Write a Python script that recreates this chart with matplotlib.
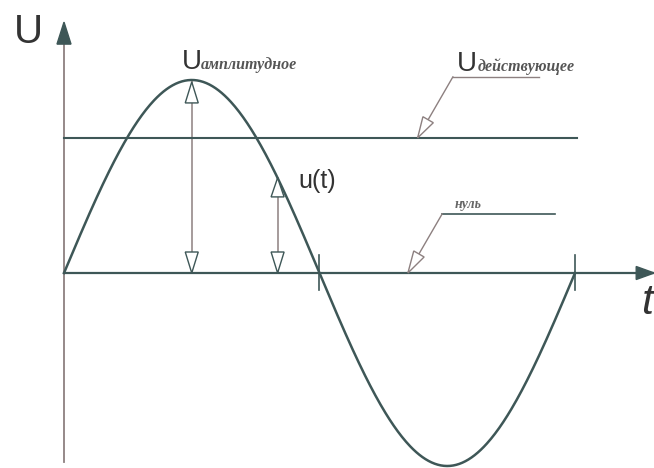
import numpy as np
import matplotlib
matplotlib.use("Agg")
import matplotlib.pyplot as plt
from matplotlib.patches import Polygon

# signal parameters (amplitude = 1, one period = 1)
period = 1.0
amplitude = 1.0
u_rms = 0.70            # level of the "действующее" line
t_sample = 0.418        # where u(t) is shown
tick_t = [0.5, 1.0]     # small ticks on the time axis

labels = {
    "axis_u": "U",
    "axis_t": "t",
    "amp": "амплитудное",
    "rms": "действующее",
    "zero": "нуль",
    "ut": "u(t)",
}

DARK = "#3e5757"
GREY = "#8d8080"

# pixel layout of the original: t=0 at x=64, period = 511 px, zero at y=273, amplitude = 193 px
fig = plt.figure(figsize=(6.54, 4.68), dpi=100)
ax = fig.add_axes([0, 0, 1, 1])
ax.set_xlim(-64 / 511, 590 / 511)
ax.set_ylim(-195 / 193, 273 / 193)
ax.axis("off")


def head(tip, tail, length=21, width=13, filled=False, color=DARK, lw=1.0):
    # triangular arrow head, sizes in pixels
    p_tip = ax.transData.transform(tip)
    p_tail = ax.transData.transform(tail)
    d = p_tail - p_tip
    d = d / np.hypot(*d)
    n = np.array([-d[1], d[0]]) * width / 2
    base = p_tip + d * length
    verts = ax.transData.inverted().transform([p_tip, base + n, base - n])
    ax.add_patch(Polygon(verts, closed=True, fc=color if filled else "white",
                         ec=color, lw=lw, zorder=6))


# axes
ax.plot([0, 0], [-0.98, 1.28], color=GREY, lw=1.3, zorder=2)
head((0, 1.30), (0, 0), length=22, width=14, filled=True)
ax.plot([0, 1.23], [0, 0], color=DARK, lw=1.6, zorder=3)
head((1.155, 0), (0, 0), length=18, width=13, filled=True)
ax.text(-0.098, 1.19, labels["axis_u"], fontsize=29, family="Liberation Sans",
        color="#333", ha="left", va="baseline")
ax.text(1.13, -0.21, labels["axis_t"], fontsize=31, family="Liberation Sans",
        style="italic", color="#333", ha="left", va="baseline")

# sine wave
t = np.linspace(0, period, 500)
u = amplitude * np.sin(2 * np.pi * t / period)
ax.plot(t, u, color=DARK, lw=1.8, zorder=4)
for tk in tick_t:
    ax.plot([tk, tk], [0.093, -0.088], color=DARK, lw=1.2, zorder=4)

# rms level
ax.plot([0, period * 1.004], [u_rms, u_rms], color=DARK, lw=1.5, zorder=3)

# amplitude arrow
t_amp = period / 4
ax.plot([t_amp, t_amp], [0, amplitude], color=GREY, lw=1.1, zorder=2)
head((t_amp, amplitude - 0.01), (t_amp, 0), length=21, width=13)
head((t_amp, 0), (t_amp, amplitude), length=21, width=13)
ax.text(t_amp - 0.02, 1.055, "U", fontsize=20, family="Liberation Sans",
        color="#333", ha="left", va="baseline")
ax.text(t_amp + 0.017, 1.055, labels["amp"], fontsize=11.5, family="Liberation Serif",
        style="italic", weight="bold", color="#555", ha="left", va="baseline")

# u(t) arrow
u_s = amplitude * np.sin(2 * np.pi * t_sample / period)
ax.plot([t_sample, t_sample], [0, u_s], color=GREY, lw=1.1, zorder=2)
head((t_sample, u_s), (t_sample, 0), length=19, width=13)
head((t_sample, 0), (t_sample, u_s), length=21, width=13)
ax.text(t_sample + 0.04, 0.44, labels["ut"], fontsize=18, family="Liberation Sans",
        color="#333", ha="left", va="baseline")

# leader to the rms line
rms_tip = (0.692, u_rms)
rms_knee = (0.761, 1.016)
ax.plot([rms_knee[0], 0.93], [rms_knee[1], rms_knee[1]], color=GREY, lw=1.0, zorder=2)
ax.plot([rms_knee[0], rms_tip[0]], [rms_knee[1], rms_tip[1]], color=GREY, lw=1.0, zorder=2)
head(rms_tip, rms_knee, length=21, width=12, color=GREY)
ax.text(0.769, 1.045, "U", fontsize=20, family="Liberation Sans",
        color="#333", ha="left", va="baseline")
ax.text(0.81, 1.045, labels["rms"], fontsize=11.5, family="Liberation Serif",
        style="italic", weight="bold", color="#555", ha="left", va="baseline")

# leader to the zero line
zero_tip = (0.673, 0)
zero_knee = (0.74, 0.306)
ax.plot([zero_knee[0], 0.961], [zero_knee[1], zero_knee[1]], color=DARK, lw=1.2, zorder=2)
ax.plot([zero_knee[0], zero_tip[0]], [zero_knee[1], zero_tip[1]], color=GREY, lw=1.0, zorder=2)
head(zero_tip, zero_knee, length=22, width=12, color=GREY)
ax.text(0.765, 0.335, labels["zero"], fontsize=10, family="Liberation Serif",
        style="italic", weight="bold", color="#666", ha="left", va="baseline")

fig.savefig("out.png", dpi=100)
